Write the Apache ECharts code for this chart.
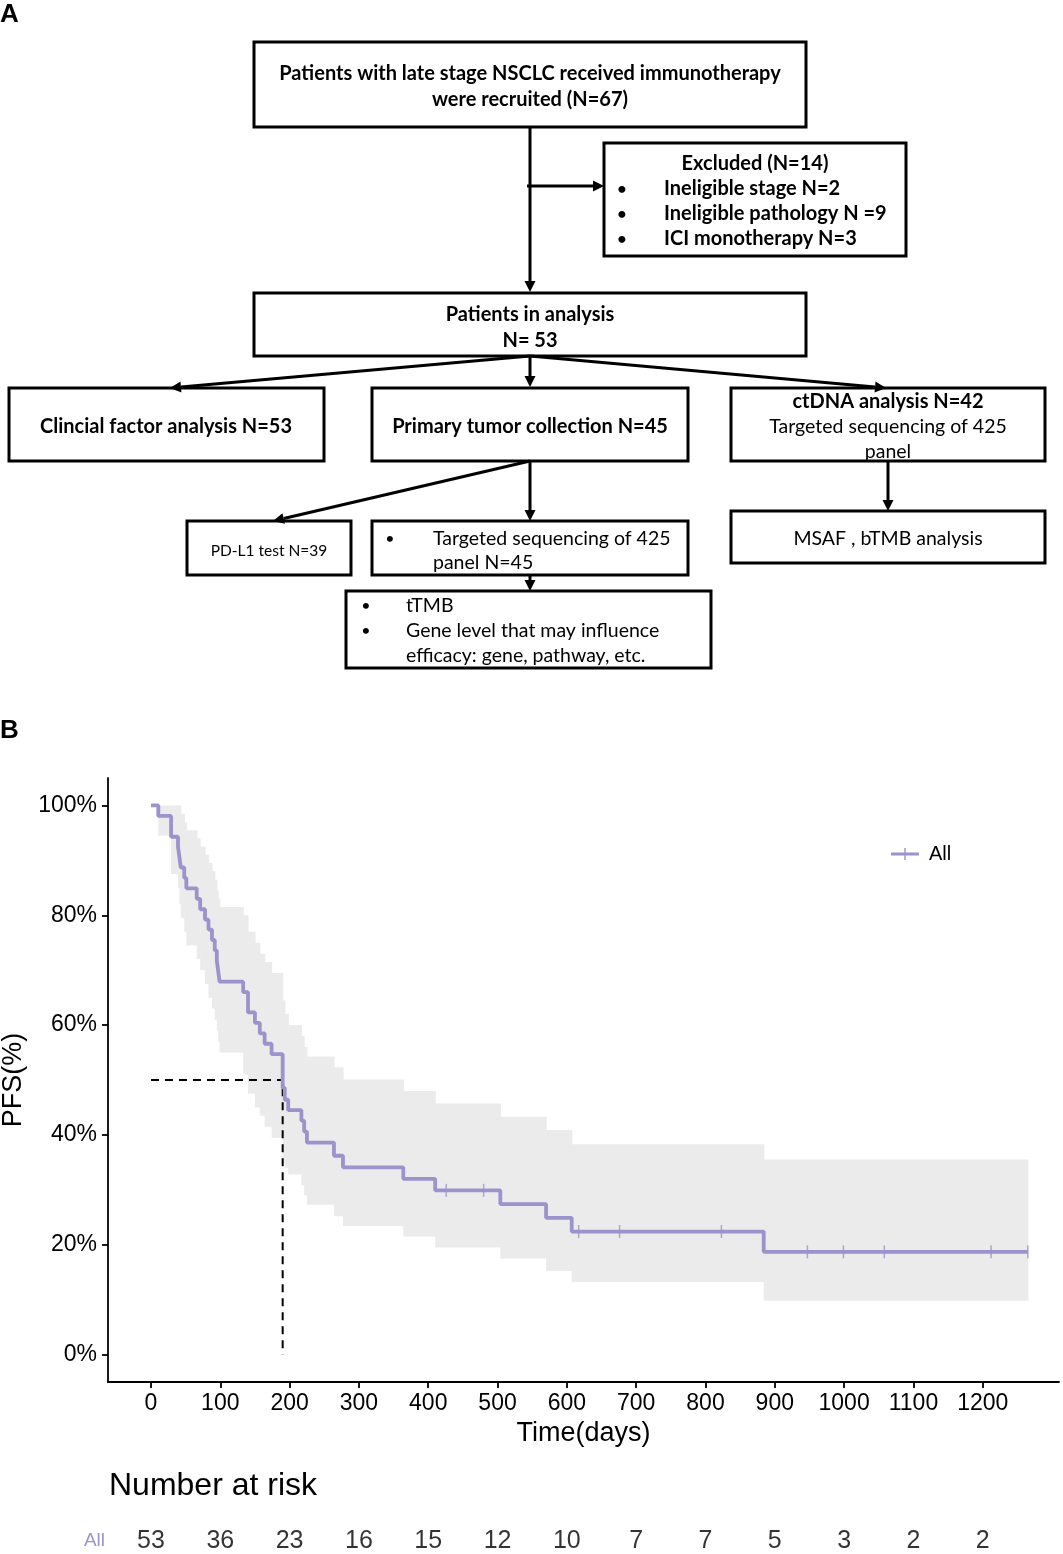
<!DOCTYPE html>
<html>
<head>
<meta charset="utf-8">
<title>Flow chart and PFS curve</title>
<script src="https://cdn.jsdelivr.net/npm/echarts@6/dist/echarts.min.js"></script>
<style>
  html, body { margin: 0; padding: 0; background: #fff; }
  #main { width: 1063px; height: 1554px; }
</style>
</head>
<body>
<div id="main"></div>
<script>
// KM curve: time (days) and survival (%) after each step
var kmTime = [0, 10.6, 29, 39, 41, 43, 48, 51, 66, 71, 78, 83, 88, 92, 95, 97, 99, 133, 140, 150,
  157, 164, 174, 190, 193, 198, 217, 221, 225, 264, 277, 364, 410, 504, 570, 607, 884, 1265];
var kmSurv = [100, 98.1, 94.3, 92.5, 90.6, 88.7, 86.8, 84.9, 83.0, 81.1, 79.2, 77.4, 75.5, 73.6, 71.7, 69.8, 67.9, 66.0, 62.3, 60.4,
  58.5, 56.6, 54.7, 48.6, 46.4, 44.5, 42.6, 40.6, 38.6, 36.2, 34.1, 32.0, 29.9, 27.4, 24.9, 22.4, 18.7, 18.7];
// confidence band, one value per step of kmTime
var ciUpper = [100, 100, 100, 100, 100, 98.5, 97, 95.5, 94, 92.5, 91, 89.5, 88, 86.5, 84.5, 83, 81.5, 80, 77, 75,
  73, 71.5, 69.5, 64.5, 62, 60, 58, 56, 54.3, 52.3, 50.1, 48, 45.7, 43.3, 40.9, 38.3, 35.5, 35.5];
var ciLower = [100, 94.5, 87.5, 85, 82, 79.5, 77, 74.5, 72, 70, 67.5, 65, 63, 61, 59, 57, 55, 51, 47.5, 45,
  43.5, 41.5, 39.5, 35, 34, 32.8, 30.8, 29, 27.3, 25.2, 23.4, 21.5, 19.5, 17.5, 15.2, 13.2, 9.8, 9.8];
var censorTimes = [426, 480, 617, 676, 823, 947, 999, 1058, 1212, 1265];
var medianTime = 190;
// number at risk
var riskTimes = [0, 100, 200, 300, 400, 500, 600, 700, 800, 900, 1000, 1100, 1200];
var riskCounts = [53, 36, 23, 16, 15, 12, 10, 7, 7, 5, 3, 2, 2];
// axis ticks
var xTicks = [0, 100, 200, 300, 400, 500, 600, 700, 800, 900, 1000, 1100, 1200];
var yTicks = [0, 20, 40, 60, 80, 100];

var purple = '#9a93cc';
var kmFont = 'Liberation Sans';
var flowFont = 'Lato';
var boldSize = 20, normSize = 19.5;

function survAt(t){
  var s = kmSurv[0];
  for (var i = 0; i < kmTime.length; i++){
    if (kmTime[i] <= t) s = kmSurv[i];
  }
  return s;
}

// ---- flow chart pieces (panel A) ----
var g = [];
function box(x, y, w, h){
  g.push({type:'rect', shape:{x:x, y:y, width:w, height:h},
    style:{fill:'#fff', stroke:'#000', lineWidth:3}, z:10});
}
function txt(s, x, y, bold, size, align){
  g.push({type:'text', x:x, y:y + 0.5, z:12,
    style:{text:s, font:(bold ? 'bold ' : '') + (size || (bold ? boldSize : normSize)) + 'px ' + flowFont,
      fill:'#000', textAlign:align || 'center', textVerticalAlign:'middle'}});
}
function arrow(x1, y1, x2, y2){
  var dx = x2 - x1, dy = y2 - y1, len = Math.sqrt(dx*dx + dy*dy);
  var ux = dx/len, uy = dy/len, hl = 11, hw = 5.5;
  var bx = x2 - ux*hl, by = y2 - uy*hl;
  g.push({type:'line', shape:{x1:x1, y1:y1, x2:bx, y2:by}, style:{stroke:'#000', lineWidth:3}, z:11});
  g.push({type:'polygon', shape:{points:[[x2, y2], [bx - uy*hw, by + ux*hw], [bx + uy*hw, by - ux*hw]]},
    style:{fill:'#000'}, z:11});
}

arrow(530, 127, 530, 292);
arrow(527, 186, 604, 186);
arrow(530, 356, 170, 388);
arrow(530, 356, 530, 387);
arrow(530, 356, 886, 388);
arrow(530, 461, 273, 521);
arrow(530, 461, 530, 521);
arrow(888, 461, 888, 511);
arrow(530, 575, 530, 591);

box(254, 42, 552, 85);
txt('Patients with late stage NSCLC received immunotherapy', 530, 73, true);
txt('were recruited (N=67)', 530, 99, true);

box(604, 143, 302, 113);
txt('Excluded (N=14)', 755, 163, true);
txt('\u2022', 622, 188, true, 16);
txt('\u2022', 622, 213, true, 16);
txt('\u2022', 622, 238, true, 16);
txt('Ineligible stage N=2', 664, 188, true, boldSize, 'left');
txt('Ineligible pathology N =9', 664, 213, true, boldSize, 'left');
txt('ICI monotherapy N=3', 664, 238, true, boldSize, 'left');

box(254, 293, 552, 63);
txt('Patients in analysis', 530, 314, true);
txt('N= 53', 530, 340, true);

box(9, 388, 315, 73);
txt('Clincial factor analysis N=53', 166, 426, true);
box(372, 388, 316, 73);
txt('Primary tumor collection N=45', 530, 426, true);
box(731, 388, 314, 73);
txt('ctDNA analysis N=42', 888, 401, true);
txt('Targeted sequencing of 425', 888, 426, false);
txt('panel', 888, 451, false);

box(187, 521, 164, 54);
txt('PD-L1 test N=39', 269, 550, false, 15.5);
box(372, 521, 316, 54);
txt('\u2022', 390, 538, false, 16);
txt('Targeted sequencing of 425', 433, 538, false, normSize, 'left');
txt('panel N=45', 433, 562, false, normSize, 'left');
box(731, 511, 314, 52);
txt('MSAF , bTMB analysis', 888, 538, false);

box(346, 591, 365, 77);
txt('\u2022', 366, 605, false, 16);
txt('\u2022', 366, 630, false, 16);
txt('tTMB', 406, 605, false, normSize, 'left');
txt('Gene level that may influence', 406, 630, false, normSize, 'left');
txt('efficacy: gene, pathway, etc.', 406, 655, false, normSize, 'left');

g.push({type:'text', x:0, y:2, style:{text:'A', font:'bold 26px ' + kmFont, fill:'#000'}});
g.push({type:'text', x:0, y:718, style:{text:'B', font:'bold 26px ' + kmFont, fill:'#000'}});

// ---- series data built from the arrays ----
var lineData = [];
var bandData = [];
for (var i = 0; i < kmTime.length; i++){
  lineData.push([kmTime[i], kmSurv[i]]);
  if (i < kmTime.length - 1 && ciUpper[i] > ciLower[i]){
    bandData.push([kmTime[i], kmTime[i+1], ciLower[i], ciUpper[i]]);
  }
}
var censorData = censorTimes.map(function(t){ return [t, survAt(t)]; });
var riskData = riskTimes.map(function(t, i){ return [t, 'All', riskCounts[i]]; });

var axisLineStyle = {color:'#000', width:1.8};

var myChart = echarts.init(document.getElementById('main'), null, {renderer:'canvas'});
var option = {
  backgroundColor: '#fff',
  animation: false,
  graphic: g,
  title: {
    text: 'Number at risk', left: 104, top: 1465,
    textStyle: {fontFamily: kmFont, fontSize: 32, fontWeight: 'normal', color: '#000'}
  },
  legend: {
    data: [{name:'All', icon:'path://M0,4.5h28v3h-28z M13.3,0h1.4v12h-1.4z'}],
    left: 886, top: 839, itemWidth: 28, itemHeight: 12, itemGap: 10,
    textStyle: {fontFamily: kmFont, fontSize: 20, color: '#000', padding: [0, 0, 0, 5]}
  },
  grid: [
    {left: 108, right: 4, top: 778, bottom: 172, outerBoundsMode: 'none', containLabel: false},
    {left: 108, right: 4, top: 1526, height: 30, outerBoundsMode: 'none', containLabel: false}
  ],
  xAxis: [
    {
      gridIndex: 0, type: 'value', min: -62, max: 1310,
      axisLine: {show: true, onZero: false, lineStyle: axisLineStyle},
      axisTick: {show: true, customValues: xTicks, length: 6, lineStyle: axisLineStyle},
      axisLabel: {customValues: xTicks, fontFamily: kmFont, fontSize: 23, color: '#000', margin: 10,
        formatter: function(v){ return String(v); }},
      splitLine: {show: false},
      name: 'Time(days)', nameLocation: 'middle', nameGap: 38,
      nameTextStyle: {fontFamily: kmFont, fontSize: 27, color: '#000'}
    },
    {gridIndex: 1, type: 'value', min: -62, max: 1310, show: false}
  ],
  yAxis: [
    {
      gridIndex: 0, type: 'value', min: -5, max: 105,
      axisLine: {show: true, onZero: false, lineStyle: axisLineStyle},
      axisTick: {show: true, customValues: yTicks, length: 6, lineStyle: axisLineStyle},
      axisLabel: {customValues: yTicks, formatter: '{value}%', fontFamily: kmFont, fontSize: 23, color: '#000', margin: 11},
      splitLine: {show: false},
      name: 'PFS(%)', nameLocation: 'middle', nameGap: 73,
      nameTextStyle: {fontFamily: kmFont, fontSize: 27, color: '#000'}
    },
    {
      gridIndex: 1, type: 'category', data: ['All'],
      axisLine: {show: false}, axisTick: {show: false},
      axisLabel: {fontFamily: kmFont, fontSize: 19, color: purple, margin: 3}
    }
  ],
  series: [
    {
      name: 'CI', type: 'custom', xAxisIndex: 0, yAxisIndex: 0, silent: true, z: 1,
      encode: {x: [0, 1], y: [2, 3]},
      data: bandData,
      renderItem: function(params, api){
        var p1 = api.coord([api.value(0), api.value(3)]);
        var p2 = api.coord([api.value(1), api.value(2)]);
        return {type: 'rect',
          shape: {x: p1[0], y: p1[1], width: p2[0] - p1[0] + 0.6, height: p2[1] - p1[1]},
          style: {fill: '#ebebeb'}};
      }
    },
    {
      name: 'median', type: 'line', xAxisIndex: 0, yAxisIndex: 0, silent: true, z: 3,
      symbol: 'none',
      data: [[0, 50], [medianTime, 50], [medianTime, 0]],
      lineStyle: {color: '#000', width: 2, type: [8, 6]}
    },
    {
      name: 'All', type: 'line', xAxisIndex: 0, yAxisIndex: 0, z: 4,
      step: 'end', symbol: 'none', color: purple,
      data: lineData,
      lineStyle: {color: purple, width: 3.8}
    },
    {
      name: 'censor', type: 'scatter', xAxisIndex: 0, yAxisIndex: 0, z: 5,
      symbol: 'rect', symbolSize: [1.5, 13],
      itemStyle: {color: purple},
      data: censorData
    },
    {
      name: 'risk', type: 'scatter', xAxisIndex: 1, yAxisIndex: 1,
      symbolSize: 1, itemStyle: {color: 'rgba(0,0,0,0)'},
      label: {
        show: true, position: 'inside', fontFamily: kmFont, fontSize: 25, color: '#000',
        formatter: function(p){ return p.value[2]; }
      },
      data: riskData
    }
  ]
};
myChart.setOption(option);
</script>
</body>
</html>
